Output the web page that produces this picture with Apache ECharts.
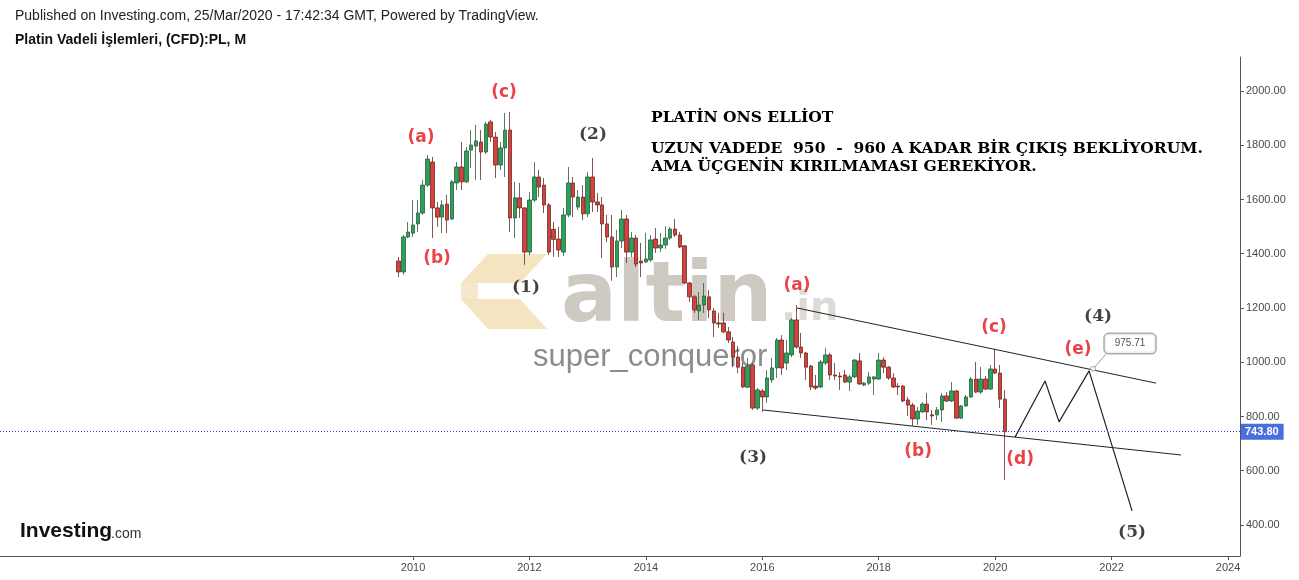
<!DOCTYPE html>
<html><head><meta charset="utf-8">
<script src="https://cdn.jsdelivr.net/npm/echarts/dist/echarts.min.js"></script>
<style>html,body{margin:0;padding:0;background:#fff}#c{width:1299px;height:580px}</style>
</head><body><div id="c"></div>
<script>
// Monthly candles, first = Oct 2009 (PL CFD, monthly)
const startYear = 2009, startMonth = 10;
const opens  = [1373,1333,1462,1476,1510,1550,1653,1738,1569,1535,1583,1528,1661,1720,1665,1782,1797,1812,1775,1886,1830,1727,1790,1856,1532,1606,1569,1406,1598,1683,1653,1580,1490,1454,1406,1543,1661,1572,1609,1547,1683,1591,1580,1510,1462,1351,1447,1528,1406,1458,1373,1370,1377,1454,1421,1432,1458,1491,1469,1429,1292,1241,1189,1211,1241,1189,1145,1145,1112,1075,1019,982,908,990,831,894,872,935,979,1082,997,1027,1156,1056,1034,986,912,909,997,1027,953,949,953,927,946,1005,916,923,938,938,1008,982,942,912,912,861,842,791,817,846,806,806,824,876,857,894,794,839,872,938,890,938,901,975,960,864];
const closes = [1333,1462,1480,1506,1550,1653,1749,1569,1535,1580,1524,1665,1720,1665,1779,1801,1816,1775,1878,1830,1727,1790,1856,1532,1606,1569,1406,1598,1683,1646,1580,1406,1453,1414,1543,1661,1609,1609,1547,1683,1591,1580,1510,1462,1351,1447,1528,1406,1458,1362,1366,1381,1451,1421,1432,1458,1491,1469,1425,1292,1241,1193,1211,1244,1193,1145,1141,1112,1082,1019,982,909,986,831,898,872,942,979,1082,979,1034,1156,1056,1034,982,909,905,1001,1027,953,949,946,927,946,1008,920,923,946,946,1008,982,942,909,909,857,842,791,820,846,817,802,824,876,857,894,794,839,872,938,890,938,901,975,960,864,743.8];
const lows   = [1314,1322,1458,1462,1480,1543,1646,1458,1499,1476,1476,1524,1635,1635,1661,1716,1672,1672,1768,1812,1679,1709,1683,1480,1458,1532,1359,1395,1591,1609,1550,1395,1389,1388,1392,1535,1535,1561,1524,1535,1554,1554,1384,1443,1300,1314,1421,1366,1388,1351,1314,1366,1370,1403,1406,1418,1451,1462,1421,1288,1222,1182,1156,1182,1163,1093,1126,1108,1071,982,960,905,905,824,824,817,850,924,942,953,971,1019,1050,1016,935,898,898,905,990,935,935,898,923,894,942,916,912,916,879,935,960,935,905,879,853,802,765,769,813,787,769,787,780,853,853,791,791,835,868,887,883,898,898,957,831,566];
const highs  = [1388,1469,1517,1598,1598,1672,1764,1757,1591,1598,1617,1672,1738,1812,1794,1856,1875,1856,1886,1893,1849,1812,1919,1923,1665,1661,1572,1628,1738,1709,1679,1587,1518,1499,1569,1720,1683,1635,1653,1701,1753,1624,1609,1543,1543,1488,1561,1543,1480,1469,1440,1477,1469,1495,1477,1502,1499,1528,1480,1432,1296,1248,1259,1292,1266,1200,1182,1182,1130,1093,1060,997,1016,995,905,901,971,1016,1089,1100,1082,1163,1211,1108,1038,990,953,1008,1053,1034,997,964,971,953,1012,1034,927,964,949,1034,1019,986,960,923,916,872,850,835,853,887,824,835,887,890,927,898,842,879,946,1001,983,949,990,1049,990,898];
const lastPrice = 743.80;
const yTicks = [400,600,800,1000,1200,1400,1600,1800,2000];
const xTicks = [2010,2012,2014,2016,2018,2020,2022,2024];

// drawn lines (decimal year, price)
const upperTrend = [[2016.597,1200],[2022.764,923]];
const lowerTrend = [[2016.013,824],[2023.194,658]];
const projection = [[2020.342,724],[2020.857,931],[2021.098,780],[2021.613,968],[2022.352,452]];
const calloutPoint = [2021.682,975.71];
const calloutBox = [2022.317,1069];
const calloutLink = [[2021.682,975.71],[2021.905,1030]];

const redLabels = [['(a)',2010.137,1830],['(b)',2010.412,1384],['(c)',2011.563,1993],['(a)',2016.597,1281],['(c)',2019.981,1126],['(b)',2018.676,669],['(d)',2020.428,643],['(e)',2021.424,1045]];
const blackLabels = [['(1)',2011.941,1277],['(2)',2013.092,1838],['(3)',2015.841,647],['(4)',2021.768,1170],['(5)',2022.352,371]];

const candles = opens.map((o,i)=>{
  const m = startMonth - 1 + i;
  const t = startYear + m/12;
  return [t, o, closes[i], lows[i], highs[i]];
});

const chart = echarts.init(document.getElementById('c'));
const serifBold = '"DejaVu Serif", serif';
const sansBold = '"DejaVu Sans", sans-serif';
chart.setOption({
  animation:false,
  backgroundColor:'#fff',
  grid:{left:0,right:59,top:57,bottom:24,outerBoundsMode:'none'},
  xAxis:{type:'value',min:2002.905,max:2024.206,
    axisLine:{show:true,onZero:false,lineStyle:{color:'#555',width:1}},
    axisTick:{show:true,length:4,customValues:xTicks,lineStyle:{color:'#555'}},
    axisLabel:{customValues:xTicks,color:'#4a4a4a',fontSize:11,fontFamily:'"Liberation Sans", Arial',margin:6,formatter:v=>String(Math.round(v))},
    splitLine:{show:false}},
  yAxis:{type:'value',position:'right',min:285.7,max:2125.3,
    axisLine:{show:true,lineStyle:{color:'#555',width:1}},
    axisTick:{show:true,length:4,customValues:yTicks,lineStyle:{color:'#555'}},
    axisLabel:{customValues:yTicks,color:'#4a4a4a',fontSize:11,fontFamily:'"Liberation Sans", Arial',margin:6,formatter:v=>v.toFixed(2)},
    splitLine:{show:false}},
  graphic:[
    {type:'text',left:15,top:9,style:{text:'Published on Investing.com, 25/Mar/2020 - 17:42:34 GMT, Powered by TradingView.',font:'14px "Liberation Sans", Arial',fill:'#222'}},
    {type:'text',left:15,top:33,style:{text:'Platin Vadeli İşlemleri, (CFD):PL, M',font:'bold 14px "Liberation Sans", Arial',fill:'#111'}},
    // watermark logo
    {type:'polygon',z:0,shape:{points:[[488,254],[547,254],[520,283],[461,283]]},style:{fill:'rgba(236,205,140,0.55)'}},
    {type:'polygon',z:0,shape:{points:[[461,299],[520,299],[547,329],[488,329]]},style:{fill:'rgba(236,205,140,0.55)'}},
    {type:'polygon',z:0,shape:{points:[[461,283],[478,283],[478,299],[461,299]]},style:{fill:'rgba(236,205,140,0.45)'}},
    {type:'text',z:0,left:561,top:258,style:{text:'altin',font:'bold 83px "DejaVu Sans"',fill:'rgba(185,178,166,0.7)'}},
    {type:'text',z:0,left:781,top:290,style:{text:'.in',font:'bold 40px "DejaVu Sans"',fill:'rgba(200,194,186,0.6)'}},
    {type:'text',z:0,left:533,top:342,style:{text:'super_conqueror',font:'31px "Liberation Sans", Arial',fill:'rgba(120,120,120,0.85)'}},
    // Investing logo
    {type:'text',left:20,top:521,style:{text:'Investing',font:'bold 21px "Liberation Sans", Arial',fill:'#111'}},
    {type:'text',left:111,top:527,style:{text:'.com',font:'14px "Liberation Sans", Arial',fill:'#333'}},
    // commentary
    {type:'text',left:651,top:110,style:{text:'PLATİN ONS ELLİOT',font:'bold 15.5px '+serifBold,fill:'#000'}},
    {type:'text',left:651,top:141,style:{text:'UZUN VADEDE  950  -  960 A KADAR BİR ÇIKIŞ BEKLİYORUM.',font:'bold 15.5px '+serifBold,fill:'#000'}},
    {type:'text',left:651,top:159,style:{text:'AMA ÜÇGENİN KIRILMAMASI GEREKİYOR.',font:'bold 15.5px '+serifBold,fill:'#000'}}
  ],
  series:[
    {type:'candlestick',z:3,barWidth:4,
      dimensions:['t','open','close','lowest','highest'],
      encode:{x:0,y:[1,2,3,4]},
      data:candles,
      itemStyle:{color:'#27a35a',color0:'#d8403a',borderColor:'#2f5a3d',borderColor0:'#6a2a26',borderWidth:0.8},
      markLine:{silent:true,symbol:['none','none'],
        lineStyle:{color:'#1f4fe0',type:[1,2],width:1},
        label:{show:true,position:'end',distance:1,formatter:()=>lastPrice.toFixed(2),backgroundColor:'#4a6fdc',color:'#fff',fontWeight:'bold',fontSize:11,fontFamily:'"Liberation Sans", Arial',padding:[3,5,2,4]},
        data:[{yAxis:lastPrice}]}},
    {type:'line',z:4,data:upperTrend,symbol:'none',lineStyle:{color:'#222',width:1}},
    {type:'line',z:4,data:lowerTrend,symbol:'none',lineStyle:{color:'#222',width:1}},
    {type:'line',z:4,data:projection,symbol:'none',lineStyle:{color:'#222',width:1.2}},
    {type:'line',z:4,data:calloutLink,symbol:'none',lineStyle:{color:'#999',width:1}},
    {type:'scatter',z:5,data:[calloutPoint],symbol:'circle',symbolSize:5,itemStyle:{color:'#fff',borderColor:'#999',borderWidth:1}},
    {type:'scatter',z:5,data:[{value:calloutBox,name:'975.71'}],symbolSize:0,
      label:{show:true,position:'inside',formatter:'{b}',fontSize:10,color:'#222',fontFamily:'"Liberation Sans", Arial',backgroundColor:'#fff',borderColor:'#999',borderWidth:1.5,borderRadius:4,padding:[5,10,4,10]}},
    {type:'scatter',z:6,symbolSize:0,data:redLabels.map(d=>({name:d[0],value:[d[1],d[2]]})),
      label:{show:true,position:'inside',formatter:'{b}',color:'#e3141a',fontSize:17,fontWeight:'bold',fontFamily:sansBold}},
    {type:'scatter',z:6,symbolSize:0,data:blackLabels.map(d=>({name:d[0],value:[d[1],d[2]]})),
      label:{show:true,position:'inside',formatter:'{b}',color:'#111',fontSize:17,fontWeight:'bold',fontFamily:serifBold}}
  ]
});
</script></body></html>
